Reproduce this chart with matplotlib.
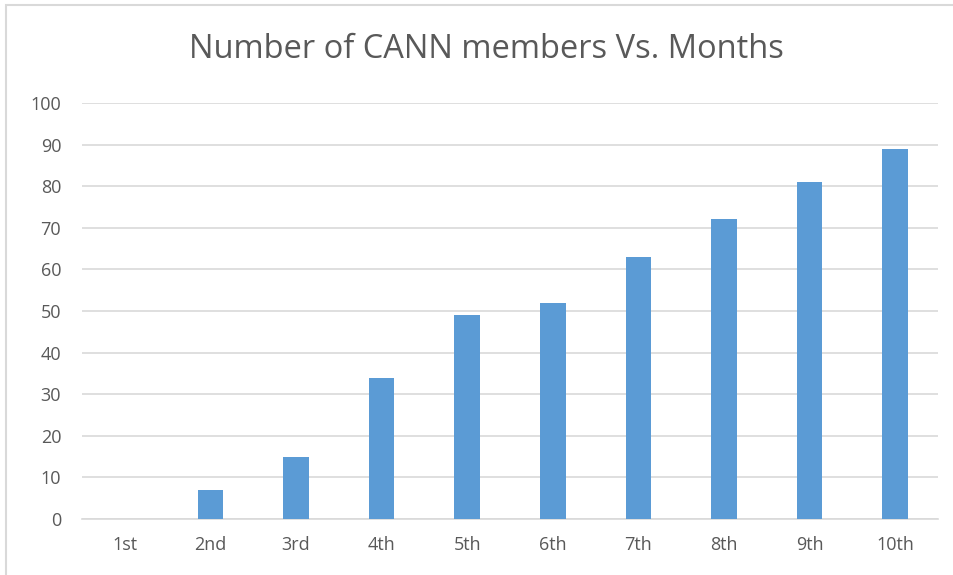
import matplotlib
matplotlib.use("Agg")
import matplotlib.pyplot as plt
from matplotlib.patches import Rectangle

# data
months = ["1st", "2nd", "3rd", "4th", "5th", "6th", "7th", "8th", "9th", "10th"]
members = [0, 7, 15, 34, 49, 52, 63, 72, 81, 89]
yticks = list(range(0, 101, 10))

plt.rcParams['font.family'] = ['Open Sans', 'DejaVu Sans']

W, H = 954, 575
fig = plt.figure(figsize=(W / 100, H / 100), dpi=100)
fig.patch.set_facecolor("white")

# chart border (only top and left edges are visible in the crop)
fig.patches.append(Rectangle((6 / W, -0.1), 1.2, 1 - 5 / H + 0.1, transform=fig.transFigure,
                             fill=False, edgecolor="#d9d9d9", linewidth=1.5))

ax = fig.add_axes([82 / W, 1 - 519 / H, (938 - 82) / W, (519 - 103) / H])

x = list(range(len(months)))
ax.bar(x, members, width=0.3, color="#5b9bd5", zorder=3)

ax.set_xlim(-0.5, len(months) - 0.5)
ax.set_ylim(0, 100)
ax.set_yticks(yticks)
ax.set_xticks(x)
ax.set_xticklabels(months)

ax.grid(axis="y", color="#d9d9d9", linewidth=1.2, zorder=0)
for s in ["top", "right", "left"]:
    ax.spines[s].set_visible(False)
ax.spines["bottom"].set_color("#d9d9d9")
ax.spines["bottom"].set_linewidth(1.2)
ax.tick_params(axis="both", length=0, labelsize=13, labelcolor="#595959")
ax.tick_params(axis="y", pad=15)
ax.tick_params(axis="x", pad=12)

fig.text((190 + 783) / 2 / W, 1 - 50 / H, "Number of CANN members Vs. Months",
         ha="center", va="center", fontsize=23.5, color="#595959")

fig.savefig("out.png", dpi=100, facecolor="white")
